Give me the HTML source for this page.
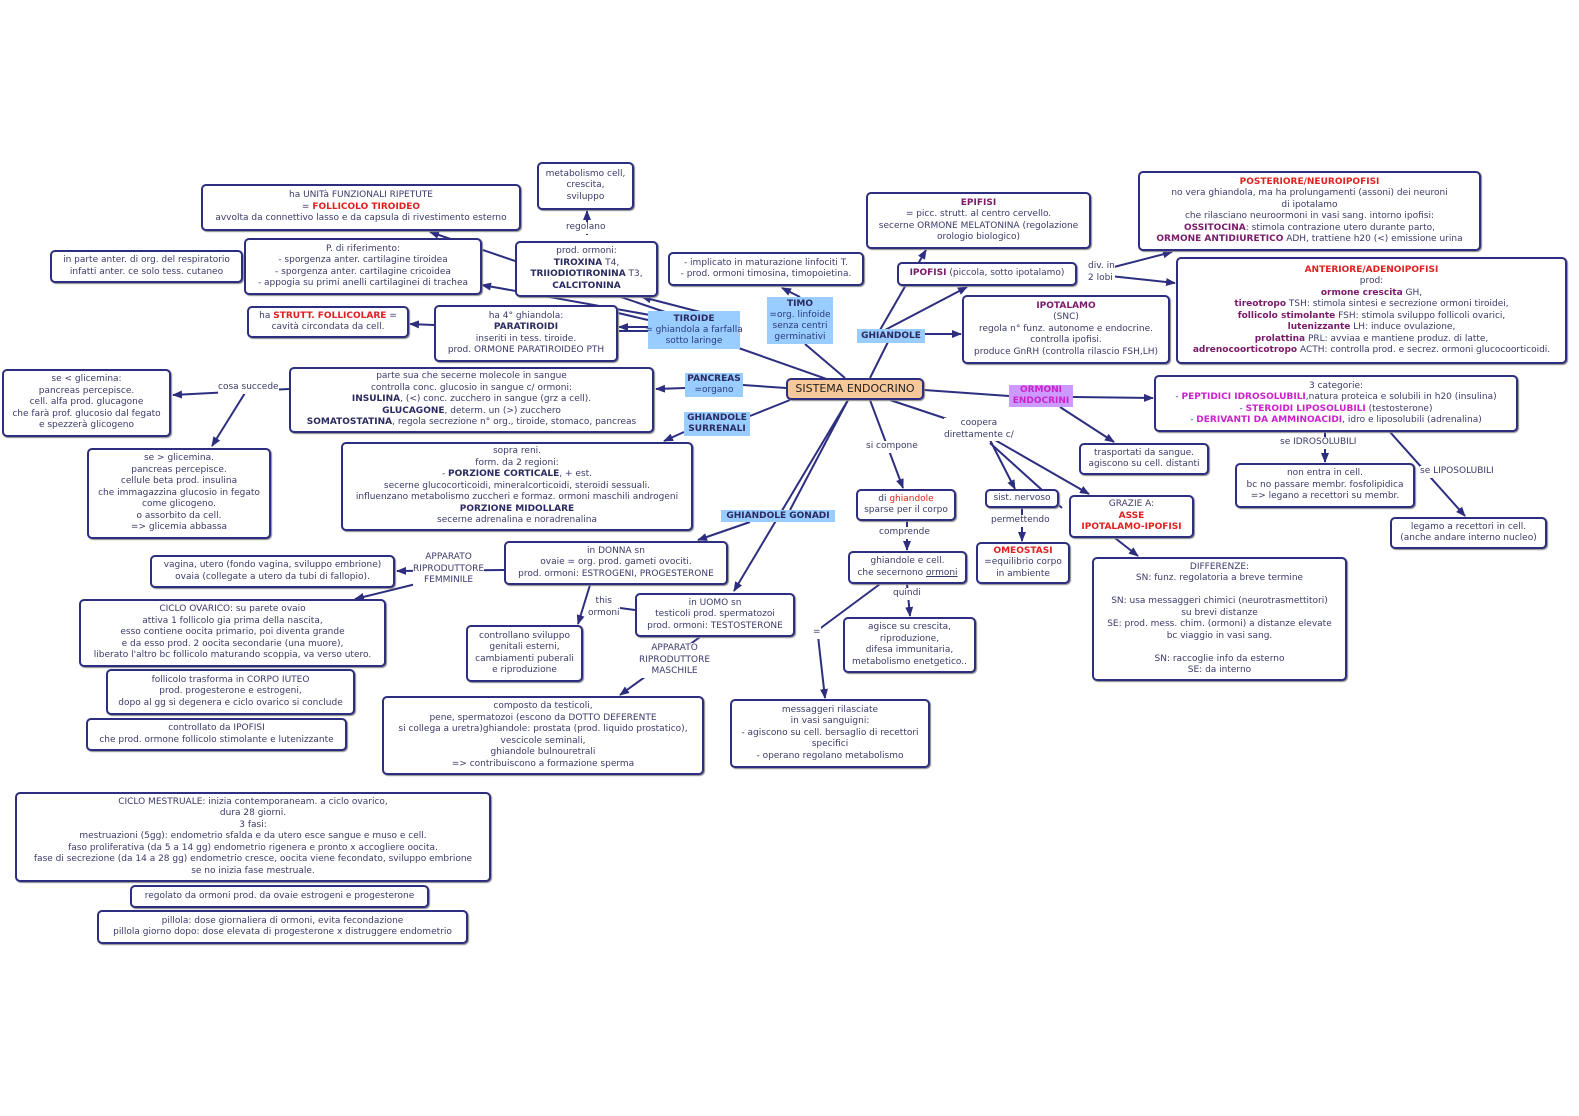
<!DOCTYPE html>
<html><head><meta charset="utf-8"><style>
body{margin:0;width:1579px;height:1116px;background:#fff;position:relative;overflow:hidden;font-family:"DejaVu Sans","Liberation Sans",sans-serif}
svg{position:absolute;left:0;top:0}
.b{position:absolute;box-sizing:border-box;border:2px solid #2e2e80;border-radius:5px;background:#fff;text-align:center;font-size:9px;line-height:11.5px;color:#3a3a6a;display:flex;align-items:center;justify-content:center;white-space:nowrap;box-shadow:1px 1px 1px #888}
.l{position:absolute;text-align:center;font-size:9px;line-height:11.5px;color:#3a3a6a;white-space:nowrap;background:#fff}
.bl{position:absolute;box-sizing:border-box;background:#99ccff;text-align:center;font-size:9px;line-height:11px;color:#2a3a80;white-space:nowrap;display:flex;align-items:center;justify-content:center}
b{color:#2a2a60}
.r{color:#e02020;font-weight:bold}
.p{color:#7a1a6a;font-weight:bold}
.m{color:#cc22cc;font-weight:bold}
</style></head><body>
<svg width="1579" height="1116">
<defs><marker id="a" markerWidth="10" markerHeight="8" refX="9" refY="4" orient="auto" markerUnits="userSpaceOnUse"><path d="M0,0 L10,4 L0,8 z" fill="#2e2e80"/></marker></defs>
<g stroke="#2e2e80" stroke-width="2" fill="none">
<line x1="855" y1="389" x2="730" y2="345"/>
<line x1="700" y1="312" x2="642" y2="297" marker-end="url(#a)"/>
<line x1="665" y1="312" x2="430" y2="232" marker-end="url(#a)"/>
<line x1="650" y1="315" x2="482" y2="285" marker-end="url(#a)"/>
<line x1="587" y1="235" x2="587" y2="211" marker-end="url(#a)"/>
<line x1="648" y1="327" x2="619" y2="327" marker-end="url(#a)"/>
<line x1="648" y1="331" x2="619" y2="331"/>
<line x1="648" y1="320" x2="618" y2="313"/>
<line x1="434" y1="325" x2="410" y2="324" marker-end="url(#a)"/>
<line x1="800" y1="297" x2="782" y2="288" marker-end="url(#a)"/>
<line x1="845" y1="378" x2="805" y2="344"/>
<line x1="786" y1="388" x2="743" y2="385"/>
<line x1="685" y1="388" x2="656" y2="389" marker-end="url(#a)"/>
<line x1="289" y1="389" x2="173" y2="395" marker-end="url(#a)"/>
<line x1="245" y1="393" x2="212" y2="446" marker-end="url(#a)"/>
<line x1="790" y1="400" x2="750" y2="416"/>
<line x1="684" y1="432" x2="664" y2="441" marker-end="url(#a)"/>
<line x1="848" y1="400" x2="790" y2="510"/>
<line x1="750" y1="522" x2="698" y2="540" marker-end="url(#a)"/>
<line x1="848" y1="400" x2="734" y2="591" marker-end="url(#a)"/>
<line x1="504" y1="570" x2="397" y2="571" marker-end="url(#a)"/>
<line x1="420" y1="583" x2="355" y2="599" marker-end="url(#a)"/>
<line x1="590" y1="585" x2="578" y2="624" marker-end="url(#a)"/>
<line x1="620" y1="608" x2="635" y2="610"/>
<line x1="700" y1="637" x2="620" y2="695" marker-end="url(#a)"/>
<line x1="870" y1="378" x2="890" y2="338"/>
<line x1="925" y1="334" x2="961" y2="334" marker-end="url(#a)"/>
<line x1="880" y1="330" x2="926" y2="250" marker-end="url(#a)"/>
<line x1="885" y1="330" x2="967" y2="287" marker-end="url(#a)"/>
<line x1="1110" y1="268" x2="1172" y2="252" marker-end="url(#a)"/>
<line x1="1110" y1="276" x2="1175" y2="283" marker-end="url(#a)"/>
<line x1="924" y1="390" x2="1009" y2="396"/>
<line x1="1073" y1="397" x2="1153" y2="398" marker-end="url(#a)"/>
<line x1="1060" y1="407" x2="1114" y2="442" marker-end="url(#a)"/>
<line x1="1325" y1="432" x2="1325" y2="462" marker-end="url(#a)"/>
<line x1="1390" y1="432" x2="1465" y2="516" marker-end="url(#a)"/>
<line x1="890" y1="400" x2="950" y2="420"/>
<line x1="990" y1="440" x2="1015" y2="489" marker-end="url(#a)"/>
<line x1="995" y1="440" x2="1089" y2="494" marker-end="url(#a)"/>
<line x1="990" y1="443" x2="1062" y2="508"/>
<line x1="1022" y1="508" x2="1022" y2="541" marker-end="url(#a)"/>
<line x1="1115" y1="538" x2="1138" y2="556" marker-end="url(#a)"/>
<line x1="870" y1="400" x2="903" y2="488" marker-end="url(#a)"/>
<line x1="907" y1="521" x2="907" y2="550" marker-end="url(#a)"/>
<line x1="907" y1="584" x2="910" y2="616" marker-end="url(#a)"/>
<line x1="880" y1="584" x2="818" y2="630"/>
<line x1="818" y1="636" x2="825" y2="698" marker-end="url(#a)"/>
</g></svg>

<div class="l" style="left:566px;top:222px">regolano</div>
<div class="l" style="left:218px;top:382px">cosa succede</div>
<div class="l" style="left:1088px;top:261px;text-align:left">div. in<br>2 lobi</div>
<div class="l" style="left:866px;top:441px">si compone</div>
<div class="l" style="left:944px;top:418px">coopera<br>direttamente c/</div>
<div class="l" style="left:879px;top:527px">comprende</div>
<div class="l" style="left:991px;top:515px">permettendo</div>
<div class="l" style="left:893px;top:588px">quindi</div>
<div class="l" style="left:1280px;top:437px">se IDROSOLUBILI</div>
<div class="l" style="left:1420px;top:466px">se LIPOSOLUBILI</div>
<div class="l" style="left:413px;top:552px">APPARATO<br>RIPRODUTTORE<br>FEMMINILE</div>
<div class="l" style="left:588px;top:596px">this<br>ormoni</div>
<div class="l" style="left:639px;top:643px">APPARATO<br>RIPRODUTTORE<br>MASCHILE</div>
<div class="l" style="left:813px;top:627px">=</div>

<div class="b" style="left:537px;top:162px;width:97px;height:48px"><span>metabolismo cell,<br>crescita,<br>sviluppo</span></div>
<div class="b" style="left:201px;top:184px;width:320px;height:47px"><span>ha UNITà FUNZIONALI RIPETUTE<br>= <span class="r">FOLLICOLO TIROIDEO</span><br>avvolta da connettivo lasso e da capsula di rivestimento esterno</span></div>
<div class="b" style="left:50px;top:250px;width:193px;height:33px"><span>in parte anter. di org. del respiratorio<br>infatti anter. ce solo tess. cutaneo</span></div>
<div class="b" style="left:244px;top:238px;width:238px;height:57px"><span>P. di riferimento:<br>- sporgenza anter. cartilagine tiroidea<br>- sporgenza anter. cartilagine cricoidea<br>- appogia su primi anelli cartilaginei di trachea</span></div>
<div class="b" style="left:515px;top:241px;width:143px;height:56px"><span>prod. ormoni:<br><b>TIROXINA</b> T4,<br><b>TRIIODIOTIRONINA</b> T3,<br><b>CALCITONINA</b></span></div>
<div class="b" style="left:668px;top:252px;width:196px;height:34px"><span>- implicato in maturazione linfociti T.<br>- prod. ormoni timosina, timopoietina.</span></div>
<div class="b" style="left:247px;top:306px;width:162px;height:32px"><span>ha <span class="r">STRUTT. FOLLICOLARE</span> =<br>cavità circondata da cell.</span></div>
<div class="b" style="left:434px;top:305px;width:184px;height:57px"><span>ha 4° ghiandola:<br><b>PARATIROIDI</b><br>inseriti in tess. tiroide.<br>prod. ORMONE PARATIROIDEO PTH</span></div>
<div class="bl" style="left:648px;top:311px;width:92px;height:38px"><span><b>TIROIDE</b><br>= ghiandola a farfalla<br>sotto laringe</span></div>
<div class="bl" style="left:767px;top:297px;width:66px;height:47px"><span><b>TIMO</b><br>=org. linfoide<br>senza centri<br>germinativi</span></div>
<div class="b" style="left:866px;top:192px;width:225px;height:57px"><span><span class="p">EPIFISI</span><br>= picc. strutt. al centro cervello.<br>secerne ORMONE MELATONINA (regolazione<br>orologio biologico)</span></div>
<div class="b" style="left:897px;top:262px;width:180px;height:24px"><span><span class="p">IPOFISI</span> (piccola, sotto ipotalamo)</span></div>
<div class="b" style="left:962px;top:295px;width:208px;height:69px"><span><span class="p">IPOTALAMO</span><br>(SNC)<br>regola n° funz. autonome e endocrine.<br>controlla ipofisi.<br>produce GnRH (controlla rilascio FSH,LH)</span></div>
<div class="bl" style="left:857px;top:329px;width:68px;height:14px"><b>GHIANDOLE</b></div>
<div class="b" style="left:1138px;top:171px;width:343px;height:80px"><span><span class="r">POSTERIORE/NEUROIPOFISI</span><br>no vera ghiandola, ma ha prolungamenti (assoni) dei neuroni<br>di ipotalamo<br>che rilasciano neuroormoni in vasi sang. intorno ipofisi:<br><span class="p">OSSITOCINA</span>: stimola contrazione utero durante parto,<br><span class="p">ORMONE ANTIDIURETICO</span> ADH, trattiene h20 (&lt;) emissione urina</span></div>
<div class="b" style="left:1176px;top:257px;width:391px;height:107px"><span><span class="r">ANTERIORE/ADENOIPOFISI</span><br>prod:<br><span class="p">ormone crescita</span> GH,<br><span class="p">tireotropo</span> TSH: stimola sintesi e secrezione ormoni tiroidei,<br><span class="p">follicolo stimolante</span> FSH: stimola sviluppo follicoli ovarici,<br><span class="p">lutenizzante</span> LH: induce ovulazione,<br><span class="p">prolattina</span> PRL: avviaa e mantiene produz. di latte,<br><span class="p">adrenocoorticotropo</span> ACTH: controlla prod. e secrez. ormoni glucocoorticoidi.</span></div>
<div class="b" style="left:786px;top:378px;width:138px;height:22px;background:#f8c898;font-size:11px;color:#222"><span>SISTEMA ENDOCRINO</span></div>
<div class="bl" style="left:685px;top:373px;width:58px;height:24px"><span><b>PANCREAS</b><br>=organo</span></div>
<div class="b" style="left:2px;top:369px;width:169px;height:68px"><span>se &lt; glicemina:<br>pancreas percepisce.<br>cell. alfa prod. glucagone<br>che farà prof. glucosio dal fegato<br>e spezzerà glicogeno</span></div>
<div class="b" style="left:289px;top:367px;width:365px;height:66px"><span>parte sua che secerne molecole in sangue<br>controlla conc. glucosio in sangue c/ ormoni:<br><b>INSULINA</b>, (&lt;) conc. zucchero in sangue (grz a cell).<br><b>GLUCAGONE</b>, determ. un (&gt;) zucchero<br><b>SOMATOSTATINA</b>, regola secrezione n° org., tiroide, stomaco, pancreas</span></div>
<div class="bl" style="left:684px;top:412px;width:66px;height:24px"><span><b>GHIANDOLE<br>SURRENALI</b></span></div>
<div class="bl" style="left:1009px;top:385px;width:64px;height:22px;background:#cc99ff;color:#cc22cc"><span><b style="color:#cc22cc">ORMONI<br>ENDOCRINI</b></span></div>
<div class="b" style="left:1154px;top:375px;width:364px;height:57px"><span>3 categorie:<br>- <span class="m">PEPTIDICI IDROSOLUBILI</span>,natura proteica e solubili in h20 (insulina)<br>- <span class="m">STEROIDI LIPOSOLUBILI</span> (testosterone)<br>- <span class="m">DERIVANTI DA AMMINOACIDI</span>, idro e liposolubili (adrenalina)</span></div>
<div class="b" style="left:87px;top:448px;width:184px;height:91px"><span>se &gt; glicemina.<br>pancreas percepisce.<br>cellule beta prod. insulina<br>che immagazzina glucosio in fegato<br>come glicogeno.<br>o assorbito da cell.<br>=&gt; glicemia abbassa</span></div>
<div class="b" style="left:341px;top:442px;width:352px;height:89px"><span>sopra reni.<br>form. da 2 regioni:<br>- <b>PORZIONE CORTICALE</b>, + est.<br>secerne glucocorticoidi, mineralcorticoidi, steroidi sessuali.<br>influenzano metabolismo zuccheri e formaz. ormoni maschili androgeni<br><b>PORZIONE MIDOLLARE</b><br>secerne adrenalina e noradrenalina</span></div>
<div class="b" style="left:1079px;top:443px;width:130px;height:32px"><span>trasportati da sangue.<br>agiscono su cell. distanti</span></div>
<div class="b" style="left:1235px;top:463px;width:180px;height:45px"><span>non entra in cell.<br>bc no passare membr. fosfolipidica<br>=&gt; legano a recettori su membr.</span></div>
<div class="b" style="left:1390px;top:517px;width:157px;height:32px"><span>legamo a recettori in cell.<br>(anche andare interno nucleo)</span></div>
<div class="bl" style="left:721px;top:510px;width:114px;height:12px"><b>GHIANDOLE GONADI</b></div>
<div class="b" style="left:856px;top:489px;width:100px;height:32px"><span>di <span style="color:#e02020">ghiandole</span><br>sparse per il corpo</span></div>
<div class="b" style="left:985px;top:489px;width:74px;height:19px"><span>sist. nervoso</span></div>
<div class="b" style="left:1069px;top:495px;width:125px;height:43px"><span>GRAZIE A:<br><span class="r">ASSE<br>IPOTALAMO-IPOFISI</span></span></div>
<div class="b" style="left:976px;top:542px;width:94px;height:42px"><span><span class="r">OMEOSTASI</span><br>=equilibrio corpo<br>in ambiente</span></div>
<div class="b" style="left:150px;top:555px;width:245px;height:33px"><span>vagina, utero (fondo vagina, sviluppo embrione)<br>ovaia (collegate a utero da tubi di fallopio).</span></div>
<div class="b" style="left:504px;top:541px;width:224px;height:44px"><span>in DONNA sn<br>ovaie = org. prod. gameti ovociti.<br>prod. ormoni: ESTROGENI, PROGESTERONE</span></div>
<div class="b" style="left:848px;top:551px;width:119px;height:33px"><span>ghiandole e cell.<br>che secernono <u>ormoni</u></span></div>
<div class="b" style="left:1092px;top:557px;width:255px;height:124px"><span>DIFFERENZE:<br>SN: funz. regolatoria a breve termine<br><br>SN: usa messaggeri chimici (neurotrasmettitori)<br>su brevi distanze<br>SE: prod. mess. chim. (ormoni) a distanze elevate<br>bc viaggio in vasi sang.<br><br>SN: raccoglie info da esterno<br>SE: da interno</span></div>
<div class="b" style="left:79px;top:599px;width:307px;height:68px"><span>CICLO OVARICO: su parete ovaio<br>attiva 1 follicolo gia prima della nascita,<br>esso contiene oocita primario, poi diventa grande<br>e da esso prod. 2 oocita secondarie (una muore),<br>liberato l'altro bc follicolo maturando scoppia, va verso utero.</span></div>
<div class="b" style="left:635px;top:593px;width:160px;height:44px"><span>in UOMO sn<br>testicoli prod. spermatozoi<br>prod. ormoni: TESTOSTERONE</span></div>
<div class="b" style="left:466px;top:625px;width:117px;height:57px"><span>controllano sviluppo<br>genitali esterni,<br>cambiamenti puberali<br>e riproduzione</span></div>
<div class="b" style="left:843px;top:617px;width:133px;height:56px"><span>agisce su crescita,<br>riproduzione,<br>difesa immunitaria,<br>metabolismo enetgetico..</span></div>
<div class="b" style="left:106px;top:669px;width:249px;height:46px"><span>follicolo trasforma in CORPO IUTEO<br>prod. progesterone e estrogeni,<br>dopo al gg si degenera e ciclo ovarico si conclude</span></div>
<div class="b" style="left:86px;top:718px;width:261px;height:33px"><span>controllato da IPOFISI<br>che prod. ormone follicolo stimolante e lutenizzante</span></div>
<div class="b" style="left:382px;top:696px;width:322px;height:79px"><span>composto da testicoli,<br>pene, spermatozoi (escono da DOTTO DEFERENTE<br>si collega a uretra)ghiandole: prostata (prod. liquido prostatico),<br>vescicole seminali,<br>ghiandole bulnouretrali<br>=&gt; contribuiscono a formazione sperma</span></div>
<div class="b" style="left:730px;top:699px;width:200px;height:69px"><span>messaggeri rilasciate<br>in vasi sanguigni:<br>- agiscono su cell. bersaglio di recettori<br>specifici<br>- operano regolano metabolismo</span></div>
<div class="b" style="left:15px;top:792px;width:476px;height:90px"><span>CICLO MESTRUALE: inizia contemporaneam. a ciclo ovarico,<br>dura 28 giorni.<br>3 fasi:<br>mestruazioni (5gg): endometrio sfalda e da utero esce sangue e muso e cell.<br>faso proliferativa (da 5 a 14 gg) endometrio rigenera e pronto x accogliere oocita.<br>fase di secrezione (da 14 a 28 gg) endometrio cresce, oocita viene fecondato, sviluppo embrione<br>se no inizia fase mestruale.</span></div>
<div class="b" style="left:130px;top:885px;width:299px;height:23px"><span>regolato da ormoni prod. da ovaie estrogeni e progesterone</span></div>
<div class="b" style="left:97px;top:910px;width:371px;height:34px"><span>pillola: dose giornaliera di ormoni, evita fecondazione<br>pillola giorno dopo: dose elevata di progesterone x distruggere endometrio</span></div>
</body></html>
